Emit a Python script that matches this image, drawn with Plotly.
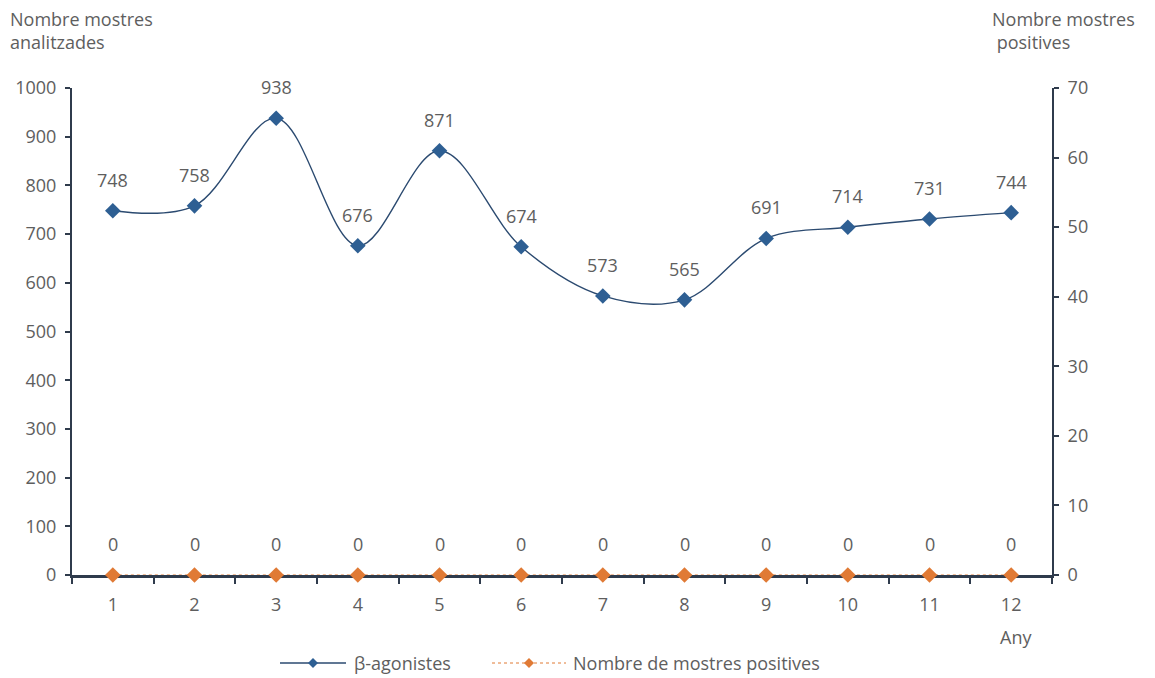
import plotly.graph_objects as go

# Yearly sample counts
anys = [1, 2, 3, 4, 5, 6, 7, 8, 9, 10, 11, 12]
beta_agonistes = [748, 758, 938, 676, 871, 674, 573, 565, 691, 714, 731, 744]
mostres_positives = [0, 0, 0, 0, 0, 0, 0, 0, 0, 0, 0, 0]

left_ticks = [0, 100, 200, 300, 400, 500, 600, 700, 800, 900, 1000]
right_ticks = [0, 10, 20, 30, 40, 50, 60, 70]

serie_noms = ["β-agonistes", "Nombre de mostres positives"]

BLUE = "#2E5F93"
BLUE_LINE = "#2B4A70"
ORANGE = "#E07A35"
GREY = "#5E5E5E"
AXIS = "#2F3B4C"
FONT = "Open Sans, sans-serif"
FS = 18

W, H = 1155, 678
L, R, T, B = 72, 103, 88, 103
pw, ph = W - L - R, H - T - B


def px_x(x):
    return (x - L) / pw


def px_y(y):
    return (H - B - y) / ph


fig = go.Figure()

fig.add_trace(go.Scatter(
    x=anys, y=beta_agonistes, name=serie_noms[0],
    mode="lines+markers", cliponaxis=False,
    line=dict(color=BLUE_LINE, width=1.4, shape="spline", smoothing=1.0),
    marker=dict(symbol="diamond", size=12, color=BLUE),
    yaxis="y",
))
fig.add_trace(go.Scatter(
    x=anys, y=mostres_positives, name=serie_noms[1],
    mode="lines+markers", cliponaxis=False,
    line=dict(color=ORANGE, width=1, dash="dot"),
    marker=dict(symbol="diamond", size=12, color=ORANGE),
    yaxis="y2",
))

# Value labels above each point
annotations = []
for x, v in zip(anys, beta_agonistes):
    annotations.append(dict(x=x, y=v, xref="x", yref="y", text=str(v),
                            showarrow=False, yshift=31,
                            font=dict(size=FS, color=GREY, family=FONT)))
for x, v in zip(anys, mostres_positives):
    annotations.append(dict(x=x, y=v, xref="x", yref="y2", text=str(v),
                            showarrow=False, yshift=31,
                            font=dict(size=FS, color=GREY, family=FONT)))

# Axis titles
annotations += [
    dict(x=px_x(8), y=px_y(5), xref="paper", yref="paper",
         xanchor="left", yanchor="top",
         text="Nombre mostres<br>analitzades", align="left", showarrow=False,
         font=dict(size=FS, color=GREY, family=FONT)),
    dict(x=px_x(990), y=px_y(5), xref="paper", yref="paper",
         xanchor="left", yanchor="top",
         text="Nombre mostres<br> positives", align="left", showarrow=False,
         font=dict(size=FS, color=GREY, family=FONT)),
    dict(x=px_x(1016), y=px_y(637), xref="paper", yref="paper",
         xanchor="center", yanchor="middle",
         text="Any", showarrow=False,
         font=dict(size=FS, color=GREY, family=FONT)),
]

# Legend drawn below the plot: long line sample with a diamond in the middle
shapes = []
ly = px_y(663)
legend_items = [
    (serie_noms[0], BLUE_LINE, BLUE, "solid", 280, 346, 352),
    (serie_noms[1], ORANGE, ORANGE, "dot", 492, 566, 571),
]
for nom, lc, mc, dash, x0, x1, tx in legend_items:
    shapes.append(dict(type="line", xref="paper", yref="paper",
                       x0=px_x(x0), x1=px_x(x1), y0=ly, y1=ly,
                       line=dict(color=lc, width=1.4 if dash == "solid" else 1, dash=dash)))
    shapes.append(dict(type="path", xref="paper", yref="paper",
                       xsizemode="pixel", ysizemode="pixel",
                       xanchor=px_x((x0 + x1) / 2), yanchor=ly,
                       path="M 0 5 L 5 0 L 0 -5 L -5 0 Z",
                       fillcolor=mc, line=dict(width=0)))
    annotations.append(dict(x=px_x(tx), y=ly, xref="paper", yref="paper",
                            xanchor="left", yanchor="middle", text=nom,
                            showarrow=False,
                            font=dict(size=FS, color=GREY, family=FONT)))

fig.update_layout(
    width=W, height=H,
    margin=dict(l=L, r=R, t=T, b=B),
    paper_bgcolor="white", plot_bgcolor="white",
    font=dict(family=FONT, size=FS, color=GREY),
    showlegend=False,
    xaxis=dict(
        range=[0.5, 12.5], tickmode="array", tickvals=anys,
        ticktext=[str(a) for a in anys],
        showgrid=False, zeroline=False, layer="below traces",
        showline=True, linecolor=AXIS, linewidth=2.5,
        ticks="", ticklabelstandoff=12, tickfont=dict(size=FS, color=GREY),
        minor=dict(tickmode="array",
                   tickvals=[a + 0.5 for a in [0] + anys],
                   ticks="outside", ticklen=6, tickcolor=AXIS, tickwidth=2),
    ),
    yaxis=dict(
        range=[0, 1000], tickmode="array", tickvals=left_ticks,
        showgrid=False, zeroline=False, layer="below traces",
        showline=True, linecolor=AXIS, linewidth=2,
        ticks="outside", ticklen=5, tickcolor=AXIS, tickwidth=2,
        ticklabelstandoff=5,
        tickfont=dict(size=FS, color=GREY),
    ),
    yaxis2=dict(
        range=[0, 70], tickmode="array", tickvals=right_ticks,
        overlaying="y", side="right",
        showgrid=False, zeroline=False, layer="below traces",
        showline=True, linecolor=AXIS, linewidth=2,
        ticks="outside", ticklen=5, tickcolor=AXIS, tickwidth=2,
        ticklabelstandoff=5,
        tickfont=dict(size=FS, color=GREY),
    ),
    annotations=annotations,
    shapes=shapes,
)

fig.write_html("out.html")
